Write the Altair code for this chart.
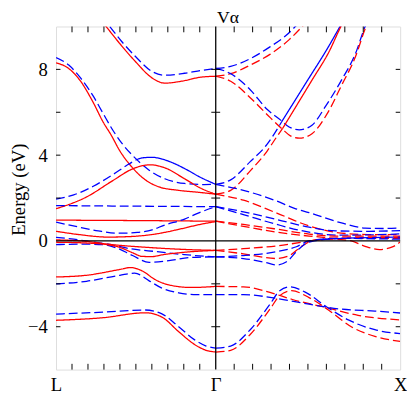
import altair as alt
import pandas as pd

TITLE = "Vα"
Y_TITLE = "Energy (eV)"
KPOINT_LABELS = ["L", "Γ", "X"]
KPOINT_POS = [0.0, 0.866, 1.866]
Y_LABELS = [-4, 0, 4, 8]
Y_DOMAIN = [-6, 10]
X_DOMAIN = [0.0, 1.866]
X_MINOR = [0.0866, 0.1732, 0.2598, 0.3464, 0.433, 0.5196, 0.6062, 0.6928, 0.7794,
           0.966, 1.066, 1.166, 1.266, 1.366, 1.466, 1.566, 1.666, 1.766]
Y_MINOR = [-4, -2, 2, 4, 6, 8]
RED = "#ff0000"
BLUE = "#0000ff"
FONT = "Liberation Serif"

# ---- bands along L-Gamma : (k, E) ----
lg_r_top = [(0.202, 10.7), (0.271, 10.0), (0.346, 9.2), (0.431, 8.36), (0.521, 7.6), (0.590, 7.36), (0.681, 7.45), (0.787, 7.64), (0.866, 7.68)]
lg_b_top = [(0.202, 10.9), (0.282, 10.1), (0.356, 9.3), (0.431, 8.6), (0.521, 7.9), (0.590, 7.73), (0.697, 7.82), (0.787, 7.95), (0.866, 8.05)]
lg_b_fall = [(0.0, 8.55), (0.069, 8.2), (0.133, 7.6), (0.202, 6.75), (0.255, 5.95), (0.309, 5.15), (0.362, 4.5), (0.431, 3.85), (0.505, 3.3), (0.590, 2.9), (0.697, 2.68), (0.803, 2.63), (0.866, 2.64)]
lg_r_fall = [(0.0, 8.3), (0.059, 8.1), (0.133, 7.45), (0.202, 6.45), (0.255, 5.55), (0.298, 4.95), (0.346, 4.2), (0.415, 3.41), (0.484, 2.85), (0.559, 2.52), (0.665, 2.36), (0.771, 2.27), (0.866, 2.18)]
lg_r_hump = [(0.0, 1.5), (0.165, 2.05), (0.309, 2.82), (0.415, 3.36), (0.511, 3.55), (0.590, 3.41), (0.697, 2.9), (0.787, 2.45), (0.866, 2.18)]
lg_b_rise = [(0.0, 1.95), (0.096, 2.15), (0.202, 2.55), (0.309, 3.1), (0.388, 3.55), (0.431, 3.77)]
lg_b_hump = [(0.431, 3.77), (0.473, 3.88), (0.521, 3.9), (0.574, 3.82), (0.644, 3.6), (0.707, 3.33), (0.787, 2.95), (0.866, 2.64)]
lg_b_flat = [(0.0, 1.65), (0.441, 1.62), (0.866, 1.6)]
lg_r_flat = [(0.0, 0.97), (0.441, 0.95), (0.866, 0.92)]
lg_b_dip = [(0.0, 0.88), (0.122, 0.65), (0.229, 0.47), (0.335, 0.36), (0.441, 0.4), (0.521, 0.52), (0.585, 0.73), (0.697, 1.02), (0.771, 1.3), (0.866, 1.6)]
lg_r_dip = [(0.0, 0.45), (0.122, 0.3), (0.282, 0.18), (0.388, 0.2), (0.495, 0.27), (0.601, 0.42), (0.670, 0.55), (0.798, 0.8), (0.866, 0.9)]
lg_b_f1 = [(0.0, 0.17), (0.096, 0.08), (0.202, -0.05), (0.282, -0.15), (0.399, -0.36), (0.548, -0.5), (0.697, -0.64), (0.866, -0.74)]
lg_b_f2 = [(0.0, -0.17), (0.149, -0.15), (0.255, -0.17), (0.335, -0.35), (0.415, -0.68), (0.505, -1.0), (0.612, -0.92), (0.734, -0.77), (0.866, -0.74)]
lg_r_f1 = [(0.0, 0.05), (0.176, -0.03), (0.282, -0.15), (0.495, -0.3), (0.707, -0.4), (0.866, -0.44)]
lg_r_f2 = [(0.0, -0.06), (0.176, -0.1), (0.282, -0.18), (0.346, -0.3), (0.415, -0.55), (0.468, -0.72), (0.521, -0.73), (0.574, -0.65), (0.707, -0.52), (0.866, -0.44)]
lg_r_v1 = [(0.0, -1.68), (0.165, -1.6), (0.346, -1.33), (0.404, -1.24), (0.468, -1.4), (0.537, -1.8), (0.612, -2.05), (0.734, -2.17), (0.866, -2.12)]
lg_b_v1 = [(0.0, -2.0), (0.165, -1.88), (0.346, -1.6), (0.426, -1.5), (0.505, -1.86), (0.574, -2.2), (0.665, -2.42), (0.761, -2.5), (0.866, -2.5)]
lg_b_v2 = [(0.0, -3.41), (0.255, -3.32), (0.484, -3.22), (0.574, -3.4), (0.665, -4.0), (0.750, -4.6), (0.814, -4.9), (0.866, -5.0)]
lg_r_v2 = [(0.0, -3.7), (0.255, -3.58), (0.484, -3.35), (0.574, -3.55), (0.665, -4.23), (0.750, -4.82), (0.814, -5.1), (0.866, -5.18)]

# ---- bands along Gamma-X : (k, E) ----
gx_b_up = [(0.866, 8.05), (0.947, 8.14), (1.053, 8.5), (1.160, 9.05), (1.250, 9.6), (1.309, 10.1), (1.372, 10.7)]
gx_r_up = [(0.866, 7.68), (0.947, 7.8), (1.053, 8.2), (1.160, 8.7), (1.266, 9.4), (1.346, 10.1), (1.410, 10.7)]
gx_b_u = [(0.866, 8.05), (0.947, 7.8), (1.053, 7.05), (1.144, 6.14), (1.223, 5.6), (1.250, 5.4), (1.319, 5.18), (1.388, 5.4), (1.463, 6.3), (1.548, 7.5), (1.622, 8.7), (1.681, 10.1), (1.718, 10.7)]
gx_r_u = [(0.866, 7.68), (0.947, 7.45), (1.053, 6.68), (1.144, 5.9), (1.229, 5.2), (1.271, 4.9), (1.319, 4.79), (1.388, 5.0), (1.468, 5.9), (1.548, 7.25), (1.622, 8.55), (1.681, 10.0), (1.718, 10.7)]
gx_b_steep_d = [(0.866, 2.64), (0.947, 2.85), (1.053, 3.7), (1.144, 4.5), (1.223, 5.55)]
gx_b_steep_s = [(1.223, 5.55), (1.372, 7.6), (1.463, 8.85), (1.543, 10.05), (1.585, 10.7)]
gx_r_steep_d = [(0.866, 2.18), (0.947, 2.36), (1.053, 3.27), (1.144, 4.18), (1.197, 4.86), (1.229, 5.25)]
gx_r_steep_s = [(1.229, 5.25), (1.388, 7.5), (1.479, 8.8), (1.548, 10.05), (1.585, 10.6)]
gx_b_m1 = [(0.866, 2.64), (1.016, 2.36), (1.197, 1.86), (1.293, 1.52), (1.372, 1.32), (1.548, 0.84), (1.676, 0.6), (1.771, 0.58), (1.866, 0.6)]
gx_r_m1 = [(0.866, 2.18), (1.016, 1.9), (1.197, 1.3), (1.372, 0.7), (1.516, 0.4), (1.691, 0.3), (1.866, 0.3)]
gx_b_m2 = [(0.866, 1.6), (1.016, 1.36), (1.197, 1.0), (1.372, 0.64), (1.516, 0.47), (1.691, 0.45), (1.866, 0.48)]
gx_b_m3 = [(0.866, 1.6), (1.016, 1.23), (1.197, 0.77), (1.372, 0.41), (1.532, 0.27), (1.691, 0.28), (1.866, 0.33)]
gx_r_m2 = [(0.866, 0.92), (1.016, 0.77), (1.197, 0.55), (1.372, 0.32), (1.532, 0.22), (1.691, 0.22), (1.866, 0.22)]
gx_r_m3 = [(0.866, 0.92), (1.016, 0.68), (1.197, 0.41), (1.372, 0.23), (1.532, 0.13), (1.691, 0.12), (1.866, 0.12)]
gx_r_f1 = [(0.866, -0.44), (1.016, -0.36), (1.197, -0.23), (1.335, -0.06), (1.463, 0.08), (1.612, 0.15), (1.866, 0.17)]
gx_r_f2 = [(0.866, -0.44), (1.016, -0.6), (1.197, -0.82), (1.266, -0.68), (1.335, -0.23), (1.410, 0.06), (1.505, 0.08), (1.601, 0.0), (1.676, -0.25), (1.755, -0.4), (1.824, -0.28), (1.866, -0.05)]
gx_b_f1 = [(0.866, -0.74), (1.016, -0.68), (1.197, -0.5), (1.303, -0.27), (1.372, 0.0), (1.532, 0.12), (1.866, 0.08)]
gx_b_f2 = [(0.866, -0.74), (1.016, -0.82), (1.133, -1.0), (1.197, -1.12), (1.250, -0.97), (1.319, -0.36), (1.372, -0.05), (1.505, 0.1), (1.866, 0.18)]
gx_r_v1 = [(0.866, -2.12), (1.016, -2.14), (1.160, -2.4), (1.282, -2.73), (1.463, -3.1), (1.638, -3.47), (1.866, -3.68)]
gx_b_v1 = [(0.866, -2.5), (1.016, -2.5), (1.197, -2.68), (1.372, -2.95), (1.548, -3.18), (1.729, -3.27), (1.866, -3.36)]
gx_b_v2 = [(0.866, -5.0), (0.947, -4.9), (1.053, -4.14), (1.160, -2.95), (1.213, -2.32), (1.266, -2.14), (1.356, -2.41), (1.463, -3.05), (1.585, -3.68), (1.729, -4.14), (1.866, -4.32)]
gx_r_v2 = [(0.866, -5.18), (0.947, -5.1), (1.053, -4.36), (1.160, -3.18), (1.213, -2.55), (1.277, -2.32), (1.372, -2.64), (1.479, -3.23), (1.601, -4.0), (1.729, -4.45), (1.866, -4.68)]

BANDS = [
    ("lg_r_top", "red", "solid", lg_r_top), ("lg_b_top", "blue", "dashed", lg_b_top),
    ("lg_b_fall", "blue", "dashed", lg_b_fall), ("lg_r_fall", "red", "solid", lg_r_fall),
    ("lg_r_hump", "red", "solid", lg_r_hump), ("lg_b_rise", "blue", "dashed", lg_b_rise),
    ("lg_b_hump", "blue", "solid", lg_b_hump), ("lg_b_flat", "blue", "dashed", lg_b_flat),
    ("lg_r_flat", "red", "solid", lg_r_flat), ("lg_b_dip", "blue", "dashed", lg_b_dip),
    ("lg_r_dip", "red", "solid", lg_r_dip), ("lg_b_f1", "blue", "dashed", lg_b_f1),
    ("lg_b_f2", "blue", "dashed", lg_b_f2), ("lg_r_f1", "red", "solid", lg_r_f1),
    ("lg_r_f2", "red", "solid", lg_r_f2), ("lg_r_v1", "red", "solid", lg_r_v1),
    ("lg_b_v1", "blue", "dashed", lg_b_v1), ("lg_b_v2", "blue", "dashed", lg_b_v2),
    ("lg_r_v2", "red", "solid", lg_r_v2),
    ("gx_b_up", "blue", "dashed", gx_b_up), ("gx_r_up", "red", "dashed", gx_r_up),
    ("gx_b_u", "blue", "dashed", gx_b_u), ("gx_r_u", "red", "dashed", gx_r_u),
    ("gx_b_steep_d", "blue", "dashed", gx_b_steep_d), ("gx_b_steep_s", "blue", "solid", gx_b_steep_s),
    ("gx_r_steep_d", "red", "dashed", gx_r_steep_d), ("gx_r_steep_s", "red", "solid", gx_r_steep_s),
    ("gx_b_m1", "blue", "dashed", gx_b_m1), ("gx_r_m1", "red", "dashed", gx_r_m1),
    ("gx_b_m2", "blue", "dashed", gx_b_m2), ("gx_b_m3", "blue", "dashed", gx_b_m3),
    ("gx_r_m2", "red", "dashed", gx_r_m2), ("gx_r_m3", "red", "dashed", gx_r_m3),
    ("gx_r_f1", "red", "dashed", gx_r_f1), ("gx_r_f2", "red", "dashed", gx_r_f2),
    ("gx_b_f1", "blue", "dashed", gx_b_f1), ("gx_b_f2", "blue", "dashed", gx_b_f2),
    ("gx_r_v1", "red", "dashed", gx_r_v1), ("gx_b_v1", "blue", "dashed", gx_b_v1),
    ("gx_b_v2", "blue", "dashed", gx_b_v2), ("gx_r_v2", "red", "dashed", gx_r_v2),
]

rows = []
for name, spin, style, pts in BANDS:
    for i, (k, e) in enumerate(pts):
        rows.append({"band": name, "spin": spin, "style": style, "k": k, "E": e, "i": i})
bands_df = pd.DataFrame(rows)

# inward tick marks (data units)
TICK_E = 0.27     # length of top/bottom ticks in eV
TICK_K = 0.024    # length of side ticks in k units
tick_rows = []
for k in X_MINOR:
    tick_rows.append({"k": k, "k2": k, "E": Y_DOMAIN[1], "E2": Y_DOMAIN[1] - TICK_E})
    tick_rows.append({"k": k, "k2": k, "E": Y_DOMAIN[0], "E2": Y_DOMAIN[0] + TICK_E})
for e in Y_MINOR:
    tick_rows.append({"k": X_DOMAIN[0], "k2": X_DOMAIN[0] + TICK_K, "E": e, "E2": e})
    tick_rows.append({"k": X_DOMAIN[1], "k2": X_DOMAIN[1] - TICK_K, "E": e, "E2": e})
    tick_rows.append({"k": KPOINT_POS[1] - TICK_K, "k2": KPOINT_POS[1] + TICK_K, "E": e, "E2": e})
ticks_df = pd.DataFrame(tick_rows)

xscale = alt.Scale(domain=X_DOMAIN, nice=False, zero=False)
yscale = alt.Scale(domain=Y_DOMAIN, nice=False, zero=False)

label_expr = ("datum.value < 0.4 ? '%s' : (datum.value < 1.4 ? '%s' : '%s')"
              % tuple(KPOINT_LABELS))

x_axis = alt.Axis(values=KPOINT_POS, labelExpr=label_expr, ticks=False, tickSize=0,
                  domain=False, grid=False, labelPadding=6, labelFontSize=19,
                  labelFont=FONT, labelColor="black", labelFlush=False,
                  labelOverlap=False, title=None)
y_axis = alt.Axis(values=Y_LABELS, ticks=False, tickSize=0, domain=False, grid=False,
                  labelPadding=9, labelFontSize=19, labelFont=FONT, labelColor="black",
                  labelOverlap=False, labelFlush=False,
                  title=Y_TITLE, titleFont=FONT, titleFontSize=19,
                  titleFontWeight="normal", titleColor="black", titleX=-28, titleY=166)

X_ENC = alt.X("k:Q", scale=xscale, axis=x_axis)
Y_ENC = alt.Y("E:Q", scale=yscale, axis=y_axis)

zero_line = alt.Chart(pd.DataFrame({"E": [0.0]})).mark_rule(
    color="black", strokeWidth=1.3).encode(y=Y_ENC)
gamma_line = alt.Chart(pd.DataFrame({"k": [KPOINT_POS[1]]})).mark_rule(
    color="black", strokeWidth=1.3).encode(x=X_ENC)

tick_layer = alt.Chart(ticks_df).mark_rule(color="black", strokeWidth=1).encode(
    x=X_ENC, x2="k2:Q", y=Y_ENC, y2="E2:Q")

lines = alt.Chart(bands_df).mark_line(clip=True, strokeWidth=1.3, interpolate="monotone").encode(
    x=X_ENC,
    y=Y_ENC,
    color=alt.Color("spin:N", scale=alt.Scale(domain=["red", "blue"], range=[RED, BLUE]), legend=None),
    strokeDash=alt.StrokeDash("style:N", scale=alt.Scale(domain=["solid", "dashed"], range=[[1, 0], [9, 4]]), legend=None),
    detail="band:N",
    order="i:Q",
)

chart = alt.layer(lines, zero_line, gamma_line, tick_layer).properties(
    width=351, height=350,
    autosize=alt.AutoSizeParams(type="none"),
    padding={"left": 49, "top": 15, "right": 7, "bottom": 21},
    title=alt.Title(TITLE, font=FONT, fontSize=18, fontWeight="normal", color="black", offset=-1),
).configure_view(stroke="black", strokeWidth=1.3).configure(background="white")

chart.save("out.html", embed_options={"renderer": "svg", "actions": False})
